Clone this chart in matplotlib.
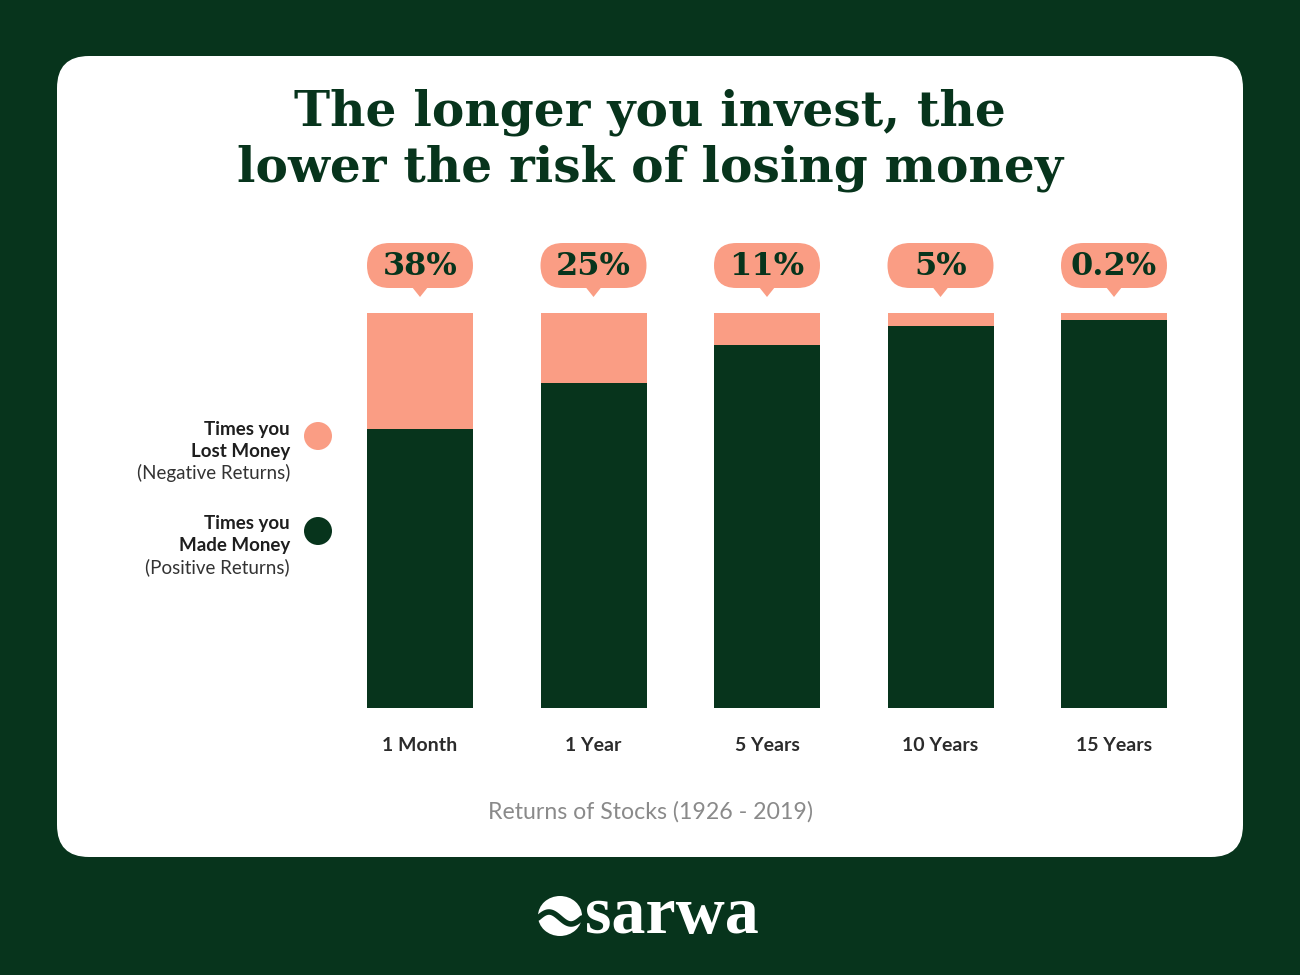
import matplotlib
matplotlib.use("Agg")
import matplotlib.pyplot as plt
from matplotlib.patches import FancyBboxPatch, Polygon, Circle, Ellipse
import numpy as np

# ---------------- data ----------------
categories = ["1 Month", "1 Year", "5 Years", "10 Years", "15 Years"]
bubble_labels = ["38%", "25%", "11%", "5%", "0.2%"]
# share of bar drawn as "lost money" (as drawn in the picture, %)
lost_share = [29.4, 17.7, 8.1, 3.3, 1.8]
made_share = [100 - v for v in lost_share]

title_lines = ["The longer you invest, the", "lower the risk of losing money"]
legend_lost = ["Times you", "Lost Money", "(Negative Returns)"]
legend_made = ["Times you", "Made Money", "(Positive Returns)"]
subtitle = "Returns of Stocks (1926 - 2019)"
brand = "sarwa"

# ---------------- style ----------------
BG = "#07341c"
GREEN = "#07341c"
PINK = "#fa9d84"
SERIF = ["DejaVu Serif"]
SERIF2 = ["Liberation Serif", "DejaVu Serif"]
SANS = ["Lato", "DejaVu Sans"]

W, H = 1300, 975
fig = plt.figure(figsize=(W / 100, H / 100), dpi=100, facecolor=BG)

# overlay axes in pixel units (origin top-left)
ov = fig.add_axes([0, 0, 1, 1], zorder=0)
ov.set_xlim(0, W)
ov.set_ylim(H, 0)
ov.axis("off")

# card
card = FancyBboxPatch((57, 56), 1186, 801,
                      boxstyle="round,pad=0,rounding_size=32",
                      facecolor="white", edgecolor="none")
ov.add_patch(card)

# title
ov.text(650, 125, title_lines[0], ha="center", va="baseline", fontsize=35,
        fontweight="bold", family=SERIF, color=GREEN)
ov.text(650, 182, title_lines[1], ha="center", va="baseline", fontsize=35,
        fontweight="bold", family=SERIF, color=GREEN)

# data axes
x = np.arange(len(categories))
ax = fig.add_axes([333.25 / W, (H - 708) / H, 867.5 / W, 395 / H], zorder=1)
ax.set_facecolor("none")
ax.set_xlim(-0.5, len(categories) - 0.5)
ax.set_ylim(0, 100)
bar_w = 106 / 173.5
ax.bar(x, made_share, width=bar_w, color=GREEN, linewidth=0)
ax.bar(x, lost_share, bottom=made_share, width=bar_w, color=PINK, linewidth=0)
for s in ax.spines.values():
    s.set_visible(False)
ax.set_yticks([])
ax.set_xticks(x)
ax.set_xticklabels(categories, fontsize=14, fontweight="bold",
                   family=SANS, color="#2b2b2b")
ax.tick_params(axis="x", length=0, pad=21)

# helper: data -> overlay pixel coords
inv = ov.transData.inverted()
def to_px(xd, yd):
    return inv.transform(ax.transData.transform((xd, yd)))

# bubbles
for i, lab in enumerate(bubble_labels):
    cx, top = to_px(i, 100)
    left, _ = to_px(i - bar_w / 2, 100)
    right, _ = to_px(i + bar_w / 2, 100)
    bw = right - left
    bh = 45
    bottom = top - 25
    b = FancyBboxPatch((left, bottom - bh), bw, bh,
                       boxstyle="round,pad=0,rounding_size=22.5",
                       facecolor=PINK, edgecolor="none")
    ov.add_patch(b)
    ov.add_patch(Polygon([[cx - 8, bottom - 1], [cx + 8, bottom - 1], [cx, bottom + 9]],
                         closed=True, facecolor=PINK, edgecolor="none"))
    ov.text(cx, bottom - bh / 2 + 1, lab, ha="center", va="center", fontsize=23,
            fontweight="bold", family=SERIF, color=GREEN)

# legend
def legend_block(lines, ys, color, cy):
    for j, (t, yy) in enumerate(zip(lines, ys)):
        ov.text(290, yy, t, ha="right", va="center", fontsize=13.5,
                fontweight="bold" if j < 2 else "normal", family=SANS,
                color="#1e1e1e" if j < 2 else "#333333")
    ov.add_patch(Circle((318, cy), 14, facecolor=color, edgecolor="none"))

legend_block(legend_lost, [430, 452, 473], PINK, 436)
legend_block(legend_made, [524, 545, 567], GREEN, 531)

# subtitle
ov.text(650, 812, subtitle, ha="center", va="center", fontsize=16.7,
        family=SANS, color="#8a8a8a")

# brand logo
ov.add_patch(Ellipse((560, 916), 44, 40, facecolor="white", edgecolor="none"))
tt = np.linspace(0, 1, 50)
ov.plot(538 + 44 * tt, 916 - 6 * np.sin(2 * np.pi * tt) + 2, color=BG, lw=4,
        solid_capstyle="round")
ov.text(585, 933, brand, ha="left", va="baseline", fontsize=49,
        fontweight="bold", family=SERIF2, color="white")

fig.savefig("out.png", dpi=100, facecolor=BG)
